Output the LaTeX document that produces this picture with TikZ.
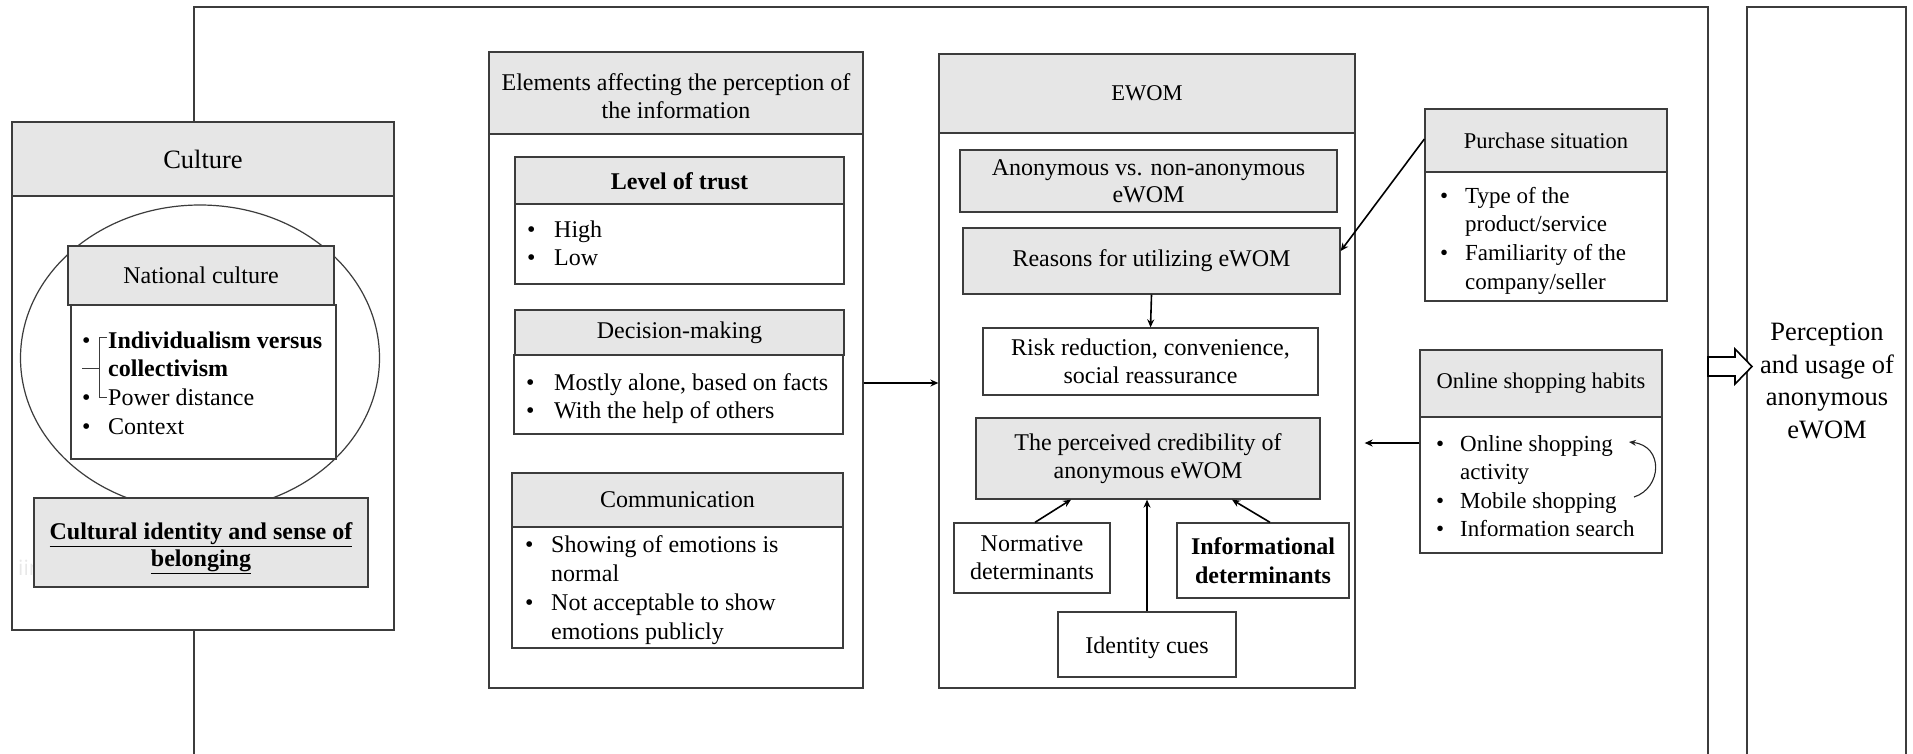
\documentclass[tikz,border=0pt]{standalone}
\usepackage{fontspec}
\setmainfont{Liberation Serif}
\newfontfamily\wmfont{Open Sans}
\usetikzlibrary{fit,arrows.meta,shapes.geometric}
\definecolor{hdrgray}{HTML}{E6E6E6}
\definecolor{linec}{HTML}{3C3C3C}
\newcommand\bu[1]{\makebox[#1pt][l]{\textbullet}}
\newcommand\ct[1]{\hspace*{#1pt}}
\newcommand\tx[3]{\node[align=center,#2] (#1t) at (#1.center) {#3};}
\begin{document}
\begin{tikzpicture}[x=1pt,y=-1pt,
  every node/.style={font=\fontsize{24}{28.5}\selectfont, inner sep=0pt},
  bx/.style={draw=linec, line width=1.3pt, fill=white, inner sep=0pt, fit={#1}},
  hd/.style={bx={#1}, fill=hdrgray},
  lst/.style={anchor=base west, align=left},
  con/.style={draw=black, line width=1.6pt, -{Stealth[length=8pt,width=7pt]}},
  thincon/.style={draw=black!85, line width=1.1pt, -{Stealth[length=7pt,width=6pt]}},
  big/.style={font=\fontsize{26.5}{32.5}\selectfont},
  small/.style={font=\fontsize{22.5}{27}\selectfont},
]
\useasboundingbox (0,0) rectangle (1913,753);

% outer frames
\node[bx={(194,7) (1708,780)}, fill=none] (frame) {};
\node[bx={(1747,7) (1906,780)}, fill=none] (outbox) {};

% Culture
\node[bx={(12,196) (394,630)}] (culbody) {};
\node[hd={(12,122) (394,196)}] (culhead) {};
\tx{culhead}{big}{Culture}
\node[text=black!9, font=\wmfont\fontsize{21}{24}\selectfont, anchor=west] (wm) at (18,568) {iinen leike};
\node[ellipse, draw=linec, line width=1.2pt, minimum width=359pt, minimum height=306pt] (ell) at (200,358) {};
\node[bx={(71,305) (336,459)}] (ncbody) {};
\node[hd={(68,246) (334,305)}] (nchead) {};
\tx{nchead}{}{National culture}
\node[lst, font=\fontsize{24}{28.7}\selectfont] (nclist) at (82,348) {\begin{tabular}[t]{@{}l@{}}\bu{26}\textbf{Individualism versus}\\ \ct{26}\textbf{collectivism}\\ \bu{26}Power distance\\ \bu{26}Context\end{tabular}};
\coordinate (bt) at (107,337);
\coordinate (bb) at (107,397);
\coordinate (bm) at (82,368);
\draw[linec, line width=1pt] (bt) -- (99,337) -- (99,397) -- (bb);
\draw[linec, line width=1pt] (bm) -- (99,368);
\node[hd={(34,498) (368,587)}] (cid) {};
\tx{cid}{yshift=-6pt, font=\fontsize{24}{27}\selectfont\bfseries}{\underline{Cultural identity and sense of}\\\underline{belonging}}

% Elements
\node[bx={(489,134) (863,688)}] (elbody) {};
\node[hd={(489,52) (863,134)}] (elhead) {};
\tx{elhead}{yshift=-3pt, font=\fontsize{24}{28}\selectfont}{Elements affecting the perception of\\the information}
\node[bx={(515,204) (844,284)}] (ltbody) {};
\node[hd={(515,157) (844,204)}] (lthead) {};
\tx{lthead}{yshift=-1pt, font=\fontsize{24}{28.5}\selectfont\bfseries}{Level of trust}
\node[lst, font=\fontsize{24}{28}\selectfont] (ltlist) at (527,237) {\begin{tabular}[t]{@{}l@{}}\bu{27}High\\ \bu{27}Low\end{tabular}};
\node[bx={(514,355) (843,434)}] (dmbody) {};
\node[hd={(515,310) (844,355)}] (dmhead) {};
\tx{dmhead}{}{Decision-making}
\node[lst, font=\fontsize{24}{28}\selectfont] (dmlist) at (526,390) {\begin{tabular}[t]{@{}l@{}}\bu{28}Mostly alone, based on facts\\ \bu{28}With the help of others\end{tabular}};
\node[bx={(512,527) (843,648)}] (cmbody) {};
\node[hd={(512,473) (843,527)}] (cmhead) {};
\tx{cmhead}{}{Communication}
\node[lst, font=\fontsize{24}{29}\selectfont] (cmlist) at (525,552) {\begin{tabular}[t]{@{}l@{}}\bu{26}Showing of emotions is\\ \ct{26}normal\\ \bu{26}Not acceptable to show\\ \ct{26}emotions publicly\end{tabular}};

% EWOM
\node[bx={(939,133) (1355,688)}] (ewbody) {};
\node[hd={(939,54) (1355,133)}] (ewhead) {};
\tx{ewhead}{small}{EWOM}
\node[hd={(960,150) (1337,212)}] (anon) {};
\tx{anon}{font=\fontsize{24}{27}\selectfont}{Anonymous vs. non-anonymous\\eWOM}
\node[hd={(963,228) (1340,294)}] (reas) {};
\tx{reas}{}{Reasons for utilizing eWOM}
\node[bx={(983,328) (1318,395)}] (risk) {};
\tx{risk}{font=\fontsize{24}{28}\selectfont}{Risk reduction, convenience,\\social reassurance}
\node[hd={(976,418) (1320,499)}] (cred) {};
\tx{cred}{font=\fontsize{24}{28}\selectfont}{The perceived credibility of\\anonymous eWOM}
\node[bx={(954,523) (1110,593)}] (norm) {};
\tx{norm}{font=\fontsize{24}{28}\selectfont}{Normative\\determinants}
\node[bx={(1177,523) (1349,598)}] (info) {};
\tx{info}{font=\fontsize{24}{29}\selectfont\bfseries}{Informational\\determinants}
\node[bx={(1058,612) (1236,677)}] (idc) {};
\tx{idc}{yshift=-3pt}{Identity cues}

% Purchase situation
\node[bx={(1425,172) (1667,301)}] (pubody) {};
\node[hd={(1425,109) (1667,172)}] (puhead) {};
\tx{puhead}{small}{Purchase situation}
\node[lst, font=\fontsize{23}{28.7}\selectfont] (pulist) at (1440,203) {\begin{tabular}[t]{@{}l@{}}\bu{25}Type of the\\ \ct{25}product/service\\ \bu{25}Familiarity of the\\ \ct{25}company/seller\end{tabular}};

% Online shopping habits
\node[bx={(1420,417) (1662,553)}] (onbody) {};
\node[hd={(1420,350) (1662,417)}] (onhead) {};
\tx{onhead}{small}{Online shopping habits}
\node[lst, font=\fontsize{23}{28.5}\selectfont] (onlist) at (1436,451) {\begin{tabular}[t]{@{}l@{}}\bu{24}Online shopping\\ \ct{24}activity\\ \bu{24}Mobile shopping\\ \bu{24}Information search\end{tabular}};
\coordinate (ms) at (1634,497);
\coordinate (os) at (1629,442);

% Perception
\node[big, align=center] (perc) at (1827,381) {Perception\\and usage of\\anonymous\\eWOM};

% connectors
\draw[con] (elbody.east |- 0,383) -- (ewbody.west |- 0,383);
\draw[con] (reas.south) -- (risk.north);
\draw[con] (norm.north -| 1035,0) -- (cred.south -| 1071,0);
\draw[con] (idc.north) -- (idc.north |- cred.south);
\draw[con] (info.north -| 1270,0) -- (cred.south -| 1232,0);
\draw[con] (puhead.west |- 0,139) -- (reas.east |- 0,251);
\draw[con, shorten >=9pt] (onbody.west |- 0,443) -- (ewbody.east |- 0,443);
\draw[thincon] (ms) .. controls (1662,488) and (1664,446) .. (os);
\draw[draw=black, line width=1.6pt, fill=white] (1708,357) -- (1735,357) -- (1735,349) -- (1752,366.5) -- (1735,384) -- (1735,376) -- (1708,376) -- cycle;
\end{tikzpicture}
\end{document}
